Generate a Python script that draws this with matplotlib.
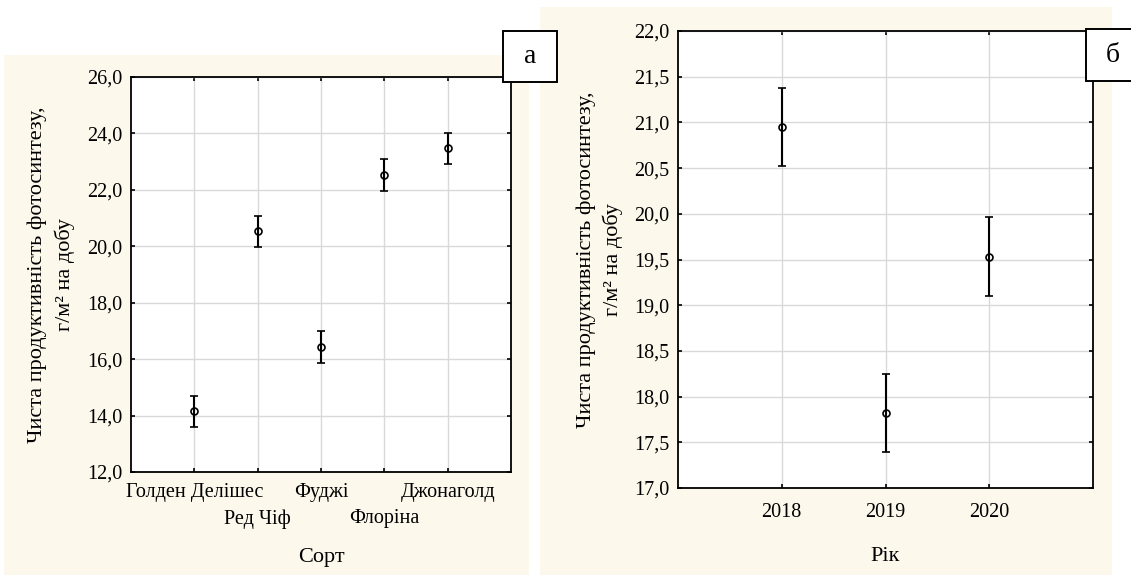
import numpy as np
import matplotlib.pyplot as plt
from matplotlib.patches import Rectangle

plt.rcParams['font.family'] = ['Liberation Serif', 'DejaVu Serif']

# дані
sorts = ['Голден Делішес', 'Ред Чіф', 'Фуджі', 'Флоріна', 'Джонаголд']
sort_mean = [14.15, 20.53, 16.43, 22.53, 23.47]
sort_err = [0.55, 0.55, 0.55, 0.56, 0.55]

years = [2018, 2019, 2020]
year_mean = [20.95, 17.82, 19.53]
year_err = [0.43, 0.43, 0.43]

W, H = 1131, 575
cream = '#fdf8ec'
ylab = 'Чиста продуктивність фотосинтезу,\nг/м² на добу'


def px(x0, y0, x1, y1):
    # піксельний прямокутник -> координати фігури
    return [x0 / W, 1 - y1 / H, (x1 - x0) / W, (y1 - y0) / H]


def style(ax, xpad):
    ax.grid(True, color='#d9d9d9', lw=1)
    ax.set_axisbelow(True)
    for s in ax.spines.values():
        s.set_linewidth(1.3)
    ax.tick_params(direction='in', length=3, width=1.2, top=True, right=True,
                   labelsize=14.5, pad=6)
    ax.tick_params(axis='x', pad=xpad)


fig = plt.figure(figsize=(W / 100, H / 100), dpi=100)
fig.patch.set_facecolor('white')

# кремові підкладки
fig.add_artist(Rectangle((4 / W, 0), 525 / W, 1 - 55 / H, transform=fig.transFigure,
                         facecolor=cream, edgecolor='none', zorder=-5))
fig.add_artist(Rectangle((540 / W, 0), 572 / W, 1 - 7 / H, transform=fig.transFigure,
                         facecolor=cream, edgecolor='none', zorder=-5))

# а) сорт
ax1 = fig.add_axes(px(131, 77, 511, 472))
x = np.arange(len(sorts))
ax1.errorbar(x, sort_mean, yerr=sort_err, fmt='o', color='black', mfc='none',
             ms=5, mew=1.2, elinewidth=1.5, capsize=3, capthick=1.5)
ax1.set_xlim(-1, len(sorts))
ax1.set_ylim(12, 26)
ax1.set_yticks(np.arange(12, 27, 2))
ax1.set_yticklabels([f'{v:.1f}'.replace('.', ',') for v in np.arange(12, 27, 2)])
ax1.set_xticks(x)
ax1.set_xticklabels(sorts)
style(ax1, 8)
# підписи сортів у два ряди
for i, t in enumerate(ax1.xaxis.get_major_ticks()):
    if i % 2 == 1:
        t.set_pad(26.7)
ax1.set_xlabel('Сорт', fontsize=16, labelpad=14)
ax1.set_ylabel(ylab, fontsize=16, labelpad=9, linespacing=1.45)

# б) рік
ax2 = fig.add_axes(px(678, 31, 1093, 488))
ax2.errorbar(years, year_mean, yerr=year_err, fmt='o', color='black', mfc='none',
             ms=5, mew=1.2, elinewidth=1.5, capsize=3, capthick=1.5)
ax2.set_xlim(2017, 2021)
ax2.set_ylim(17, 22)
yt = np.arange(17, 22.01, 0.5)
ax2.set_yticks(yt)
ax2.set_yticklabels([f'{v:.1f}'.replace('.', ',') for v in yt])
ax2.set_xticks(years)
ax2.set_xticklabels([str(y) for y in years])
style(ax2, 11)
ax2.set_xlabel('Рік', fontsize=16, labelpad=17.5)
ax2.set_ylabel(ylab, fontsize=16, labelpad=8, linespacing=1.45)

# підписи панелей
for x0, y0, x1, y1, t in [(503, 31, 557, 82, 'а'), (1086, 29, 1140, 81, 'б')]:
    fig.add_artist(Rectangle((x0 / W, 1 - y1 / H), (x1 - x0) / W, (y1 - y0) / H,
                             transform=fig.transFigure, facecolor='white',
                             edgecolor='black', lw=1.4, zorder=10))
    fig.text((x0 + x1) / 2 / W, 1 - (y0 + y1) / 2 / H, t, fontsize=20,
             ha='center', va='center', zorder=11)

fig.savefig('out.png', dpi=100)
